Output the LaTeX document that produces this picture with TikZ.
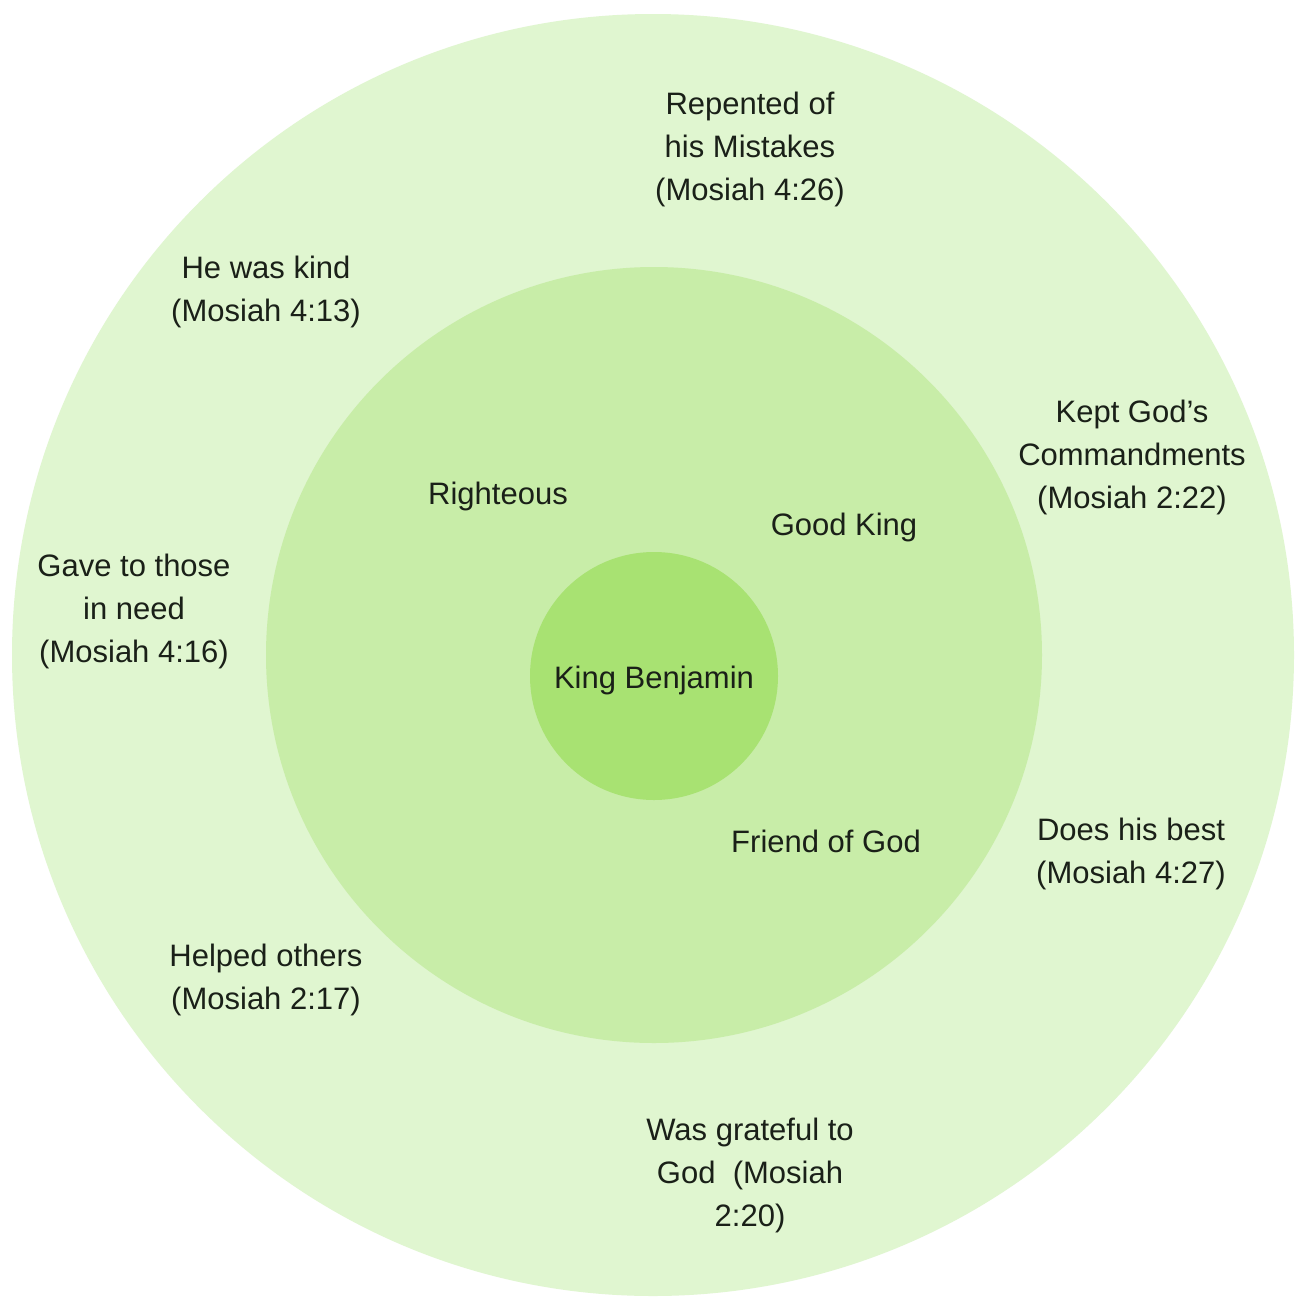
\documentclass[tikz,border=0pt]{standalone}
\usepackage{fontspec}
\setmainfont{Liberation Sans}
\newlength{\du}
\setlength{\du}{1pt}
\definecolor{outerring}{RGB}{224,246,208}
\definecolor{middlering}{RGB}{200,237,168}
\definecolor{innerring}{RGB}{168,226,114}
\definecolor{labeltext}{RGB}{26,32,24}
\tikzset{
  trait/.style={anchor=base, align=center, inner sep=0pt, text=labeltext,
    font=\fontsize{31}{43}\selectfont},
}

\begin{document}
\begin{tikzpicture}
\pgftransformxscale{1.000000}
\pgftransformyscale{-1.000000}
\fill[white] (0\du,0\du) rectangle (1299\du,1299\du);
\useasboundingbox (0\du,0\du) rectangle (1299\du,1299\du);
% rings
\fill[outerring] (653\du,655\du) circle (641\du);
\fill[middlering] (654\du,655\du) circle (388\du);
\fill[innerring] (654\du,676\du) circle (124\du);
% centre
\node[trait] (benjamin) at (654\du,688\du) {King Benjamin};
% middle ring
\node[trait] (righteous) at (498\du,504\du) {Righteous};
\node[trait] (goodking) at (844\du,535\du) {Good King};
\node[trait] (friend) at (826\du,852\du) {Friend of God};
% outer ring (base = last line)
\node[trait] (repented) at (750\du,200\du) {Repented of\\his Mistakes\\(Mosiah 4:26)};
\node[trait] (kind) at (266\du,321\du) {He was kind\\(Mosiah 4:13)};
\node[trait] (commandments) at (1132\du,508\du) {Kept God’s\\Commandments\\(Mosiah 2:22)};
\node[trait] (gave) at (134\du,662\du) {Gave to those\\in need\\(Mosiah 4:16)};
\node[trait] (best) at (1131\du,883\du) {Does his best\\(Mosiah 4:27)};
\node[trait] (helped) at (266\du,1009\du) {Helped others\\(Mosiah 2:17)};
\node[trait] (grateful) at (750\du,1226\du) {Was grateful to\\God~ (Mosiah\\2:20)};
\end{tikzpicture}
\end{document}
